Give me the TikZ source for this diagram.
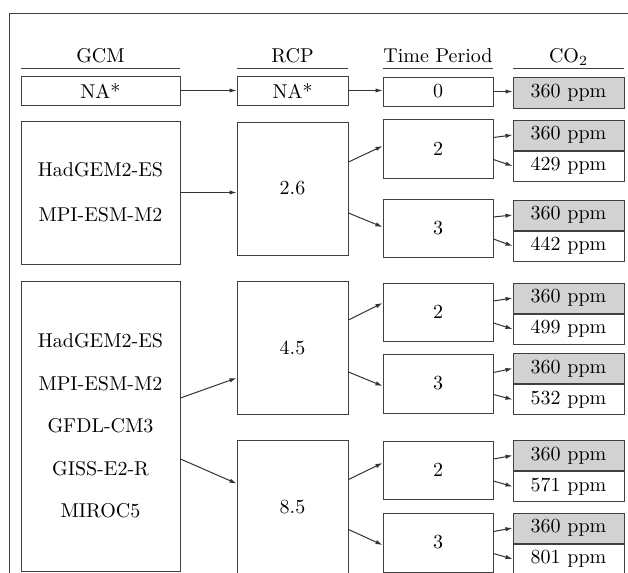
\documentclass[tikz,border=0pt]{standalone}
\usetikzlibrary{arrows.meta,positioning}

\begin{document}
\begin{tikzpicture}[
    x=0.5pt, y=-0.5pt,
    box/.style={rectangle, draw=black!75, line width=0.5pt, inner sep=0pt, align=center, minimum width=#1},
    colhead/.style={inner sep=0pt, anchor=base, text depth=2.75pt, minimum width=#1},
    hrule/.style={draw=black!75, line width=0.5pt},
    ppm/.style={box=55.5pt, minimum height=15pt, fill=white},
    ppmgray/.style={ppm, fill=gray!35},
    arr/.style={-{Latex[length=3.5pt,width=2.2pt]}, black!80, line width=0.5pt}
]
\useasboundingbox (0,0) rectangle (628,573);
\clip (0,0) rectangle (628,573);

% Frame
\coordinate (frametl) at (9,13);
\draw[hrule] (628,13) -- (frametl) -- (9,573);

% Column heads
\node[colhead=79.5pt] (gcmh) at (100.5,62.5) {GCM};
\node[colhead=55.5pt] (rcph) at (292.5,62.5) {RCP};
\node[colhead=55pt] (tph) at (438,62.5) {Time Period};
\node[colhead=55.5pt] (coh) at (568.5,62.5) {CO$_2$};
\foreach \h in {gcmh,rcph,tph,coh}
  \draw[hrule] (\h.south west) -- (\h.south east);

% Baseline row
\node[box=79.5pt, minimum height=14.5pt] (gcm0) at (100.5,90.5) {NA*};
\node[box=55.5pt, minimum height=14.5pt] (rcp0) at (292.5,90.5) {NA*};
\node[box=55pt, minimum height=14.5pt] (tp0) at (438,91.5) {0};
\node[ppmgray, minimum height=15.5pt] (co0) at (568.5,92.5) {360 ppm};

% RCP 2.6
\node[box=79.5pt, minimum height=71.5pt] (gcma) at (100.5,192.5) {HadGEM2-ES\\[10.5pt]MPI-ESM-M2};
\node[box=55.5pt, minimum height=66.5pt] (rcpa) at (292.5,188.5) {2.6};
\node[box=55pt, minimum height=29.5pt] (tpa2) at (438,148.5) {2};
\node[box=55pt, minimum height=29pt] (tpa3) at (438,228) {3};
\node[ppmgray] (coa2) at (568.5,135) {360 ppm};
\node[ppm, below=0pt of coa2] (cra2) {429 ppm};
\node[ppmgray] (coa3) at (568.5,215) {360 ppm};
\node[ppm, below=0pt of coa3] (cra3) {442 ppm};

% RCP 4.5 and 8.5
\node[box=79.5pt, minimum height=145pt] (gcmb) at (100.5,426)
  {HadGEM2-ES\\[9.25pt]MPI-ESM-M2\\[9.25pt]GFDL-CM3\\[9.25pt]GISS-E2-R\\[9.25pt]MIROC5};
\node[box=55.5pt, minimum height=66.5pt] (rcpb) at (292.5,347.5) {4.5};
\node[box=55pt, minimum height=29pt] (tpb2) at (438,312) {2};
\node[box=55pt, minimum height=29.5pt] (tpb3) at (438,383.5) {3};
\node[ppmgray] (cob2) at (568.5,298) {360 ppm};
\node[ppm, below=0pt of cob2] (crb2) {499 ppm};
\node[ppmgray] (cob3) at (568.5,368.5) {360 ppm};
\node[ppm, below=0pt of cob3] (crb3) {532 ppm};

\node[box=55.5pt, minimum height=67pt] (rcpc) at (292.5,507.5) {8.5};
\node[box=55pt, minimum height=29pt] (tpc2) at (438,470) {2};
\node[box=55pt, minimum height=29.5pt] (tpc3) at (438,542.5) {3};
\node[ppmgray] (coc2) at (568.5,455.5) {360 ppm};
\node[ppm, below=0pt of coc2] (crc2) {571 ppm};
\node[ppmgray] (coc3) at (568.5,528) {360 ppm};
\node[ppm, below=0pt of coc3] (crc3) {801 ppm};

% Arrows
\draw[arr] (gcm0.east) -- (rcp0.west);
\draw[arr] (rcp0.east) -- (rcp0.east -| tp0.west);
\draw[arr] (tp0.east) -- (tp0.east -| co0.west);

\draw[arr] (gcma.east) -- (gcma.east -| rcpa.west);
\draw[arr] ([yshift=14pt]gcmb.east) -- ([yshift=-15.25pt]rcpb.west);
\draw[arr] ([yshift=-16.5pt]gcmb.east) -- ([yshift=12pt]rcpc.west);

\draw[arr] ([yshift=13.25pt]rcpa.east) -- ([yshift=1.25pt]tpa2.west);
\draw[arr] ([yshift=-12.25pt]rcpa.east) -- ([yshift=0.5pt]tpa3.west);
\draw[arr] ([yshift=13.75pt]rcpb.east) -- ([yshift=4.5pt]tpb2.west);
\draw[arr] ([yshift=-12.25pt]rcpb.east) -- ([yshift=-1.25pt]tpb3.west);
\draw[arr] ([yshift=14pt]rcpc.east) -- ([yshift=3.5pt]tpc2.west);
\draw[arr] ([yshift=-11pt]rcpc.east) -- ([yshift=-1.25pt]tpc3.west);

\foreach \t/\c/\r in {tpa2/coa2/cra2, tpa3/coa3/cra3, tpb2/cob2/crb2,
                      tpb3/cob3/crb3, tpc2/coc2/crc2, tpc3/coc3/crc3} {
  \draw[arr] ([yshift=5.5pt]\t.east) -- (\c.west);
  \draw[arr] ([yshift=-5.5pt]\t.east) -- (\r.west);
}
\end{tikzpicture}
\end{document}
